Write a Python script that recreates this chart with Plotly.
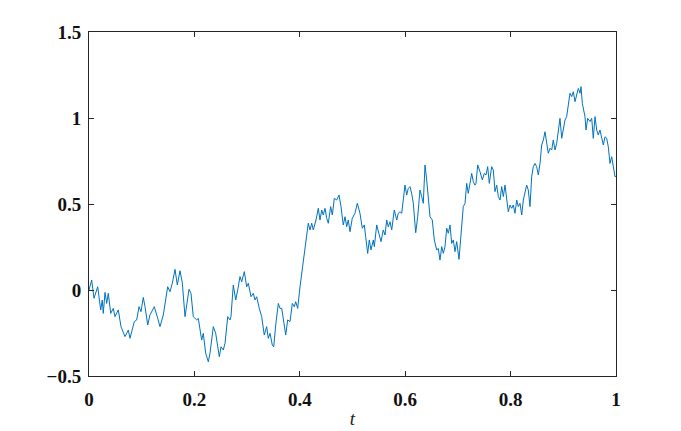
import plotly.graph_objects as go

t = [0.0, 0.0051, 0.0095, 0.0165, 0.0222, 0.0252, 0.0271, 0.0304, 0.0336, 0.0366, 0.0412, 0.0461, 0.0493,
     0.0556, 0.0607, 0.0683, 0.0746, 0.0778, 0.0810, 0.0860, 0.0905, 0.0949, 0.0987, 0.1030, 0.1063, 0.1114,
     0.1157, 0.1239, 0.1304, 0.1347, 0.1410, 0.1442, 0.1493, 0.1537, 0.1581, 0.1632, 0.1676, 0.1727, 0.1770,
     0.1822, 0.1854, 0.1898, 0.1935, 0.1979, 0.2044, 0.2074, 0.2138, 0.2169, 0.2214, 0.2264, 0.2296, 0.2359,
     0.2404, 0.2442, 0.2473,
     0.2505, 0.2548, 0.2581, 0.2632, 0.2676, 0.2694, 0.2738, 0.2784, 0.2822, 0.2865, 0.2898, 0.2947, 0.2992,
     0.3023, 0.3074, 0.3118, 0.3150, 0.3182, 0.3231, 0.3277, 0.3326, 0.3372, 0.3402, 0.3435, 0.3478, 0.3505,
     0.3543, 0.3592, 0.3624, 0.3657, 0.3700, 0.3733, 0.3770, 0.3814, 0.3858, 0.3896, 0.3922, 0.3960, 0.4004,
     0.4047, 0.4085, 0.4131, 0.4161, 0.4194, 0.4226, 0.4256, 0.4307, 0.4351, 0.4383, 0.4416, 0.4446, 0.4478,
     0.4510, 0.4541, 0.4586, 0.4617, 0.4655, 0.4700, 0.4744, 0.4782, 0.4825, 0.4858,
     0.4890, 0.4920, 0.4953, 0.4996, 0.5047, 0.5091, 0.5142, 0.5186, 0.5224, 0.5250, 0.5288, 0.5319, 0.5351,
     0.5395, 0.5414, 0.5459, 0.5490, 0.5541, 0.5584, 0.5617, 0.5649, 0.5679, 0.5712, 0.5744, 0.5793, 0.5839,
     0.5869, 0.5901, 0.5934, 0.5964, 0.5996, 0.6028, 0.6059, 0.6091, 0.6123, 0.6154, 0.6199, 0.6237, 0.6281,
     0.6313, 0.6343, 0.6376, 0.6408, 0.6471, 0.6514, 0.6552, 0.6598, 0.6628, 0.6660, 0.6693, 0.6723, 0.6755,
     0.6788, 0.6818, 0.6850, 0.6882, 0.6913, 0.6945, 0.6977, 0.7021, 0.7059, 0.7102, 0.7135, 0.7167, 0.7197,
     0.7230, 0.7262, 0.7292, 0.7324,
     0.7343, 0.7376, 0.7419, 0.7463, 0.7501, 0.7533, 0.7565, 0.7596, 0.7641, 0.7672, 0.7704, 0.7736, 0.7767,
     0.7799, 0.7831, 0.7862, 0.7894, 0.7926, 0.7956, 0.7989, 0.8021, 0.8051, 0.8083, 0.8116, 0.8146, 0.8178,
     0.8211, 0.8241, 0.8273, 0.8305, 0.8336, 0.8368, 0.8400, 0.8431, 0.8463, 0.8495, 0.8526, 0.8558, 0.8590,
     0.8621, 0.8653, 0.8685, 0.8715, 0.8748, 0.8780, 0.8810, 0.8843, 0.8875, 0.8905, 0.8937, 0.8970, 0.9000,
     0.9032, 0.9064, 0.9095, 0.9127, 0.9159, 0.9190, 0.9222, 0.9254, 0.9285, 0.9317, 0.9336, 0.9361, 0.9412,
     0.9431, 0.9463, 0.9507, 0.9539, 0.9569, 0.9602, 0.9634, 0.9664, 0.9696, 0.9729, 0.9759, 0.9791, 0.9823,
     0.9854, 0.9886, 0.9918, 0.9949, 0.9981, 1.0]

w = [0.0, 0.058, -0.048, 0.019, -0.116, -0.058, -0.136, -0.014, -0.078, -0.019, -0.136, -0.107, -0.155,
     -0.116, -0.213, -0.271, -0.233, -0.281, -0.242, -0.184, -0.174, -0.097, -0.126, -0.043, -0.097, -0.203,
     -0.145, -0.097, -0.165, -0.213, -0.145, -0.078, 0.019, -0.010, 0.039, 0.120, 0.029, 0.112, 0.043,
     -0.155, -0.097, 0.004, -0.019, -0.155, -0.174, -0.165, -0.291, -0.252, -0.368, -0.417, -0.368, -0.213,
     -0.252, -0.330, -0.388,
     -0.330, -0.349, -0.310, -0.155, -0.174, -0.155, 0.029, -0.058, 0.0, 0.078, 0.048, 0.107, 0.019,
     0.039, -0.039, -0.019, -0.058, -0.039, -0.107, -0.155, -0.262, -0.213, -0.281, -0.252, -0.320, -0.330,
     -0.203, -0.078, -0.107, -0.107, -0.194, -0.262, -0.174, -0.184, -0.078, -0.097, -0.068, -0.107, 0.019,
     0.116, 0.194, 0.329, 0.388, 0.349, 0.388, 0.349, 0.407, 0.475, 0.407, 0.465, 0.436, 0.475,
     0.417, 0.388, 0.485, 0.436, 0.533, 0.523, 0.552, 0.485, 0.378, 0.426,
     0.368, 0.407, 0.339, 0.417, 0.446, 0.504, 0.446, 0.359, 0.378, 0.310, 0.213, 0.291, 0.233,
     0.291, 0.252, 0.378, 0.339, 0.281, 0.349, 0.320, 0.407, 0.368, 0.397, 0.349, 0.465, 0.407,
     0.446, 0.455, 0.446, 0.543, 0.610, 0.552, 0.591, 0.601, 0.562, 0.504, 0.333, 0.426, 0.581,
     0.543, 0.504, 0.727, 0.640, 0.426, 0.407, 0.291, 0.233, 0.242, 0.174, 0.252, 0.213, 0.252,
     0.359, 0.330, 0.378, 0.271, 0.291, 0.223, 0.281, 0.178, 0.349, 0.485, 0.504, 0.620, 0.562,
     0.630, 0.678, 0.630, 0.610,
     0.620, 0.727, 0.688, 0.640, 0.678, 0.669, 0.717, 0.620, 0.717, 0.698, 0.572, 0.610, 0.543,
     0.523, 0.601, 0.543, 0.610, 0.543, 0.455, 0.494, 0.475, 0.494, 0.446, 0.523, 0.485, 0.504,
     0.436, 0.523, 0.572, 0.610, 0.581, 0.485, 0.659, 0.717, 0.736, 0.717, 0.669, 0.736, 0.843,
     0.872, 0.920, 0.853, 0.795, 0.824, 0.814, 0.872, 0.814, 0.853, 0.940, 0.998, 0.882, 0.930,
     0.988, 1.008, 1.085, 1.144, 1.124, 1.153, 1.095, 1.134, 1.172, 1.144, 1.182, 1.085, 1.008,
     0.930, 0.998, 0.979, 0.998, 0.882, 1.008, 0.930, 0.901, 0.930, 0.872, 0.843, 0.891, 0.882,
     0.833, 0.736, 0.775, 0.717, 0.659, 0.660]

x_ticks = [0, 0.2, 0.4, 0.6, 0.8, 1]
x_ticklabels = ["0", "0.2", "0.4", "0.6", "0.8", "1"]
y_ticks = [-0.5, 0, 0.5, 1, 1.5]
y_ticklabels = ["\u22120.5", "0", "0.5", "1", "1.5"]

font_family = "Liberation Serif"
axis_color = "#262626"

fig = go.Figure()
fig.add_trace(go.Scatter(x=t, y=w, mode="lines",
                         line=dict(color="#0072BD", width=1), showlegend=False))

common = dict(showgrid=False, zeroline=False, showline=True, linecolor=axis_color, linewidth=1,
              mirror="ticks", ticks="inside", ticklen=5, tickcolor=axis_color, tickwidth=1)

fig.update_xaxes(range=[0, 1], tickvals=x_ticks, ticktext=x_ticklabels,
                 tickfont=dict(family=font_family, size=19, color="#111111", weight="bold"),
                 ticklabelstandoff=6,
                 title=dict(text="<i>t</i>", font=dict(family=font_family, size=19, color="#222222"),
                            standoff=2),
                 **common)
fig.update_yaxes(range=[-0.5, 1.5], tickvals=y_ticks, ticktext=y_ticklabels,
                 tickfont=dict(family=font_family, size=19, color="#111111", weight="bold"),
                 ticklabelstandoff=3,
                 **common)

fig.update_layout(width=681, height=431, margin=dict(l=81, r=73, t=24, b=63),
                  plot_bgcolor="white", paper_bgcolor="white")

fig.write_html("out.html")
